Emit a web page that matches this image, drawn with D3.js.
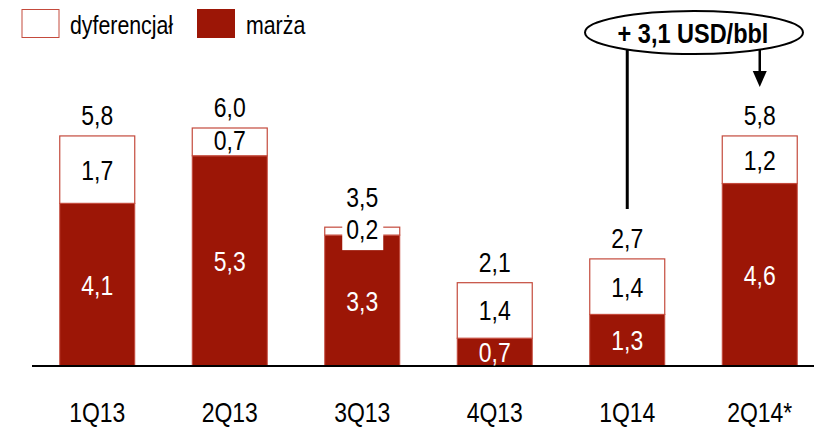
<!DOCTYPE html>
<html>
<head>
<meta charset="utf-8">
<script src="https://cdn.jsdelivr.net/npm/d3@7/dist/d3.min.js"></script>
<style>
  body { margin: 0; background: #fff; }
  svg text { font-family: "Liberation Sans", Arial, sans-serif; }
</style>
</head>
<body>
<div id="chart"></div>
<script>
// CONST and GLOBALS
let width = 814,
  height = 427;

// data
let categories = ['1Q13', '2Q13', '3Q13', '4Q13', '1Q14', '2Q14*'];
let marza = [4.1, 5.3, 3.3, 0.7, 1.3, 4.6];
let dyferencjal = [1.7, 0.7, 0.2, 1.4, 1.4, 1.2];
let totals = [5.8, 6.0, 3.5, 2.1, 2.7, 5.8];
let legendLabels = ['dyferencjał', 'marża'];
let calloutText = '+ 3,1 USD/bbl';

let red = '#9c1606';
let edge = '#c44a3c';
let fmt = v => d3.format('.1f')(v).replace('.', ',');

let rows = categories.map((c, i) => ({
  cat: c,
  m: marza[i],
  d: dyferencjal[i],
  t: totals[i],
}));

let xScale = d3
  .scaleBand()
  .domain(categories)
  .range([31, 826])
  .paddingInner(0.434)
  .paddingOuter(0.217);

let yScale = d3.scaleLinear().domain([0, 6]).range([366, 128]);

let svg = d3
  .select('#chart')
  .append('svg')
  .attr('width', width)
  .attr('height', height);

// bars - marza (bottom)
svg
  .selectAll('.bar-m')
  .data(rows)
  .join('rect')
  .attr('class', 'bar-m')
  .attr('x', d => xScale(d.cat))
  .attr('width', xScale.bandwidth())
  .attr('y', d => yScale(d.m))
  .attr('height', d => yScale(0) - yScale(d.m))
  .attr('fill', red)
  .attr('stroke', edge)
  .attr('stroke-width', 1);

// bars - dyferencjal (top, white)
svg
  .selectAll('.bar-d')
  .data(rows)
  .join('rect')
  .attr('class', 'bar-d')
  .attr('x', d => xScale(d.cat))
  .attr('width', xScale.bandwidth())
  .attr('y', d => yScale(d.m + d.d))
  .attr('height', d => yScale(d.m) - yScale(d.m + d.d))
  .attr('fill', '#fff')
  .attr('stroke', edge)
  .attr('stroke-width', 1.2);

// axis line
svg
  .append('line')
  .attr('x1', 32)
  .attr('x2', width)
  .attr('y1', yScale(0))
  .attr('y2', yScale(0))
  .attr('stroke', '#000')
  .attr('stroke-width', 2);

// category labels
let xAxis = d3.axisBottom(xScale).tickSize(0).tickPadding(0);
let gx = svg
  .append('g')
  .attr('transform', `translate(0,${yScale(0)})`)
  .call(xAxis);
gx.select('.domain').remove();
gx.selectAll('text')
  .attr('dy', 0)
  .attr('y', 56)
  .attr('font-size', 28)
  .attr('fill', '#000')
  .style('font-family', '"Liberation Sans", Arial, sans-serif');

let cx = d => xScale(d.cat) + xScale.bandwidth() / 2;

// marza values (white)
svg
  .selectAll('.lab-m')
  .data(rows)
  .join('text')
  .attr('class', 'lab-m')
  .attr('x', cx)
  .attr('y', d => (yScale(0) + yScale(d.m)) / 2 + 10)
  .attr('text-anchor', 'middle')
  .attr('font-size', 28)
  .attr('fill', '#fff')
  .text(d => fmt(d.m));

// white box behind tiny segment labels
let small = rows.filter(d => d.d < 0.5);
svg
  .selectAll('.lab-bg')
  .data(small)
  .join('rect')
  .attr('class', 'lab-bg')
  .attr('x', d => cx(d) - 20)
  .attr('y', d => (yScale(d.m) + yScale(d.m + d.d)) / 2 - 6)
  .attr('width', 41)
  .attr('height', 25)
  .attr('fill', '#fff');

// dyferencjal values
svg
  .selectAll('.lab-d')
  .data(rows)
  .join('text')
  .attr('class', 'lab-d')
  .attr('x', cx)
  .attr('y', d => (yScale(d.m) + yScale(d.m + d.d)) / 2 + (d.d < 1 ? 8 : 10))
  .attr('text-anchor', 'middle')
  .attr('font-size', 28)
  .attr('fill', '#000')
  .text(d => fmt(d.d));

// totals
svg
  .selectAll('.lab-t')
  .data(rows)
  .join('text')
  .attr('class', 'lab-t')
  .attr('x', cx)
  .attr('y', d => yScale(d.t) - (d.d < 0.5 ? 20 : 11))
  .attr('text-anchor', 'middle')
  .attr('font-size', 28)
  .attr('fill', '#000')
  .text(d => fmt(d.t));

// legend
let legend = svg.append('g').attr('class', 'legend');
legend
  .append('rect')
  .attr('x', 22)
  .attr('y', 9.5)
  .attr('width', 37)
  .attr('height', 28)
  .attr('fill', '#fff')
  .attr('stroke', edge)
  .attr('stroke-width', 1);
legend
  .append('text')
  .attr('x', 70)
  .attr('y', 34)
  .attr('font-size', 26)
  .text(legendLabels[0]);
legend
  .append('rect')
  .attr('x', 197)
  .attr('y', 9)
  .attr('width', 38)
  .attr('height', 29)
  .attr('fill', red);
legend
  .append('text')
  .attr('x', 246)
  .attr('y', 34)
  .attr('font-size', 26)
  .text(legendLabels[1]);

// callout
let c14 = cx(rows[4]);
let c24 = cx(rows[5]);
svg
  .append('line')
  .attr('x1', c14)
  .attr('x2', c14)
  .attr('y1', 50)
  .attr('y2', 209)
  .attr('stroke', '#000')
  .attr('stroke-width', 3);
svg
  .append('line')
  .attr('x1', c24)
  .attr('x2', c24)
  .attr('y1', 50)
  .attr('y2', 72)
  .attr('stroke', '#000')
  .attr('stroke-width', 2.5);
svg
  .append('path')
  .attr('d', `M${c24 - 7},71 L${c24 + 7},71 L${c24},87 Z`)
  .attr('fill', '#000');
svg
  .append('ellipse')
  .attr('cx', 694)
  .attr('cy', 32.5)
  .attr('rx', 109)
  .attr('ry', 21.5)
  .attr('fill', '#fff')
  .attr('stroke', '#000')
  .attr('stroke-width', 2);
svg
  .append('text')
  .attr('class', 'callout')
  .attr('x', 693)
  .attr('y', 43)
  .attr('text-anchor', 'middle')
  .attr('font-size', 27)
  .attr('font-weight', 'bold')
  .text(calloutText);

// no narrow font installed: squeeze every label like Arial Narrow
svg.selectAll('text').each(function () {
  let t = d3.select(this);
  let k = t.classed('callout') ? 0.87 : 0.82;
  let w = this.getComputedTextLength();
  t.attr('textLength', w * k).attr('lengthAdjust', 'spacingAndGlyphs');
});
</script>
</body>
</html>
